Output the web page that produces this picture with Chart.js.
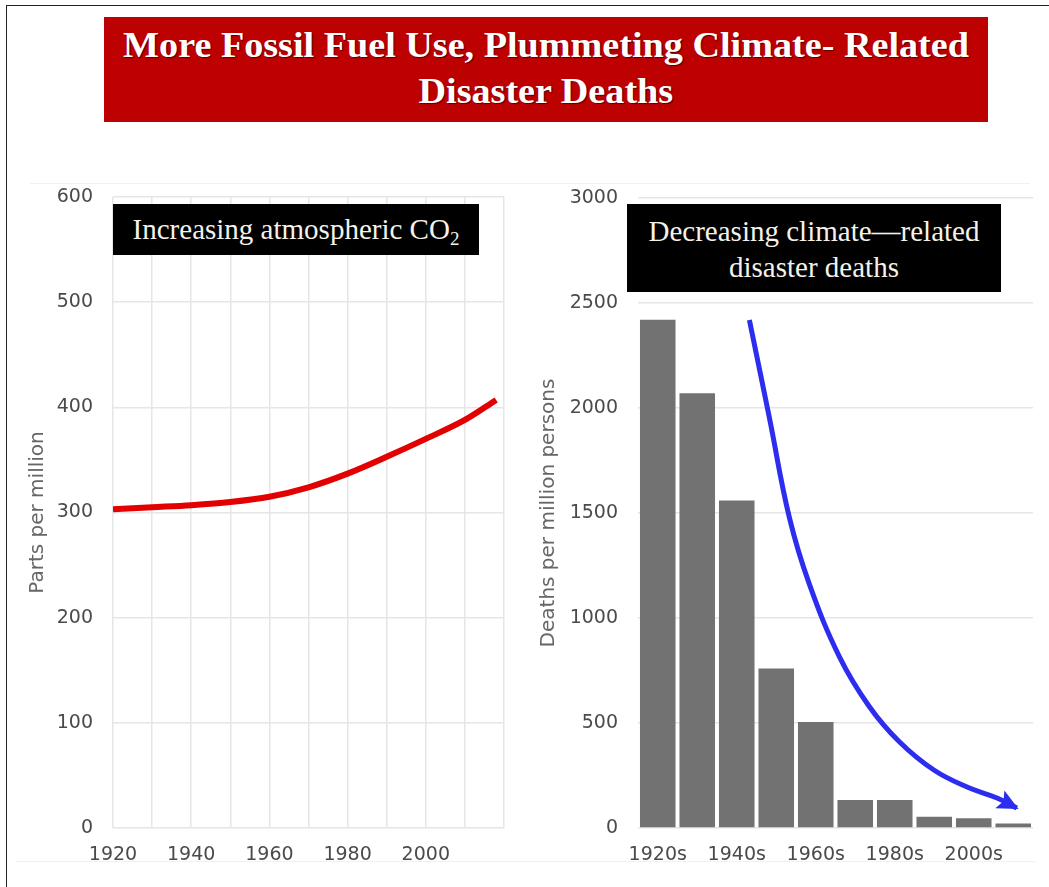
<!DOCTYPE html>
<html>
<head>
<meta charset="utf-8">
<script src="https://cdn.jsdelivr.net/npm/chart.js@4/dist/chart.umd.min.js"></script>
<style>
  html, body { margin: 0; padding: 0; background: #fff; }
  body { width: 1049px; height: 887px; position: relative; overflow: hidden; }
  #frame { position: absolute; left: 6px; top: 5px; width: 1043px; height: 882px;
           border-left: 1px solid #222; border-top: 1px solid #222; }
  #banner { position: absolute; left: 104px; top: 17px; width: 884px; height: 105px;
            background: #bd0000; color: #fff; text-align: center;
            font-family: "Liberation Serif", "Times New Roman", serif; font-weight: bold;
            font-size: 35px; line-height: 46px; padding-top: 6px; box-sizing: border-box;
            text-shadow: 1px 1px 1px #5a0000; }
  #banner span { display: inline-block; transform: scaleX(1.09); transform-origin: center; }
  .cv { position: absolute; top: 180px; }
  .lbl { position: absolute; background: #000; color: #f4f2ea; text-align: center;
         font-family: "Liberation Serif", "Times New Roman", serif; font-size: 29px; z-index: 5; }
  .faint { position: absolute; height: 1px; background: #eaf5f3; }
</style>
</head>
<body>
<div id="frame"></div>
<div id="banner"><span>More Fossil Fuel Use, Plummeting Climate- Related</span><br><span>Disaster Deaths</span></div>
<div class="faint" style="left:30px; top:183px; width:1000px;"></div>
<div class="faint" style="left:15px; top:861px; width:1020px;"></div>
<canvas id="c1" class="cv" width="530" height="700" style="left:0px"></canvas>
<canvas id="c2" class="cv" width="519" height="700" style="left:530px"></canvas>
<div class="lbl" style="left:113px; top:204px; width:366px; height:51px; line-height:51px;">Increasing atmospheric CO<sub style="font-size:19px; vertical-align:-6px; line-height:0;">2</sub></div>
<div class="lbl" style="left:627px; top:204px; width:374px; height:88px; line-height:36px; padding-top:9px; box-sizing:border-box;">Decreasing climate—related<br>disaster deaths</div>

<script>
// ---- Left chart: atmospheric CO2 (ppm) ----
const co2Years = [1920, 1930, 1940, 1950, 1960, 1970, 1980, 1990, 2000, 2010, 2018];
const co2Values = [303, 305, 307, 310, 315, 324, 337, 353, 370, 388, 407];
const co2YTicks = [0, 100, 200, 300, 400, 500, 600];
const co2XLabels = [1920, 1940, 1960, 1980, 2000];

// ---- Right chart: climate-related disaster deaths per million ----
const decades = ['1920s', '1930s', '1940s', '1950s', '1960s', '1970s', '1980s', '1990s', '2000s', '2010s'];
const deathsPerMillion = [2420, 2070, 1560, 760, 505, 133, 133, 54, 46, 22];
const decadeLabelsShown = ['1920s', '1940s', '1960s', '1980s', '2000s'];

// ---- Blue trend arrow (x in decade-index units, y in deaths per million) ----
const arrowX = [2.32, 2.83, 3.33, 3.84, 4.60, 5.35, 6.11, 6.99, 7.83, 8.59, 9.09];
const arrowY = [2419, 1950, 1480, 1160, 815, 580, 412, 276, 195, 143, 95];

const tickFont = { family: 'DejaVu Sans', size: 19 };
const titleFont = { family: 'DejaVu Sans', size: 20 };
const tickColor = '#4a4a4a';
const gridColor = '#e6e6e6';

function fixY(width) {
  return s => { s.width = width; s.paddingTop = 0; s.paddingBottom = 0; };
}

new Chart(document.getElementById('c1'), {
  type: 'line',
  data: {
    datasets: [{
      data: co2Years.map((y, i) => ({ x: y, y: co2Values[i] })),
      borderColor: '#e30000',
      borderWidth: 6,
      pointRadius: 0,
      cubicInterpolationMode: 'monotone',
      fill: false
    }]
  },
  options: {
    responsive: false,
    animation: false,
    layout: { padding: { top: 17, right: 26, left: 0, bottom: 0 } },
    plugins: { legend: { display: false }, tooltip: { enabled: false } },
    scales: {
      x: {
        type: 'linear', min: 1920, max: 2020,
        afterFit: s => { s.height = 52; },
        grid: { color: gridColor, lineWidth: 1.5, drawTicks: false },
        border: { display: false },
        ticks: {
          stepSize: 10, autoSkip: false, maxRotation: 0, padding: 16,
          color: tickColor, font: tickFont,
          callback: v => co2XLabels.includes(v) ? String(v) : ''
        }
      },
      y: {
        min: 0, max: 600,
        afterFit: fixY(113),
        afterBuildTicks: s => { s.ticks = co2YTicks.map(v => ({ value: v })); },
        grid: { color: gridColor, lineWidth: 1.5, drawTicks: false },
        border: { display: false },
        ticks: { padding: 20, color: tickColor, font: tickFont, callback: v => String(v) },
        title: { display: true, text: 'Parts per million', color: '#666', font: titleFont, padding: { top: 26, bottom: 0 } }
      }
    }
  }
});

const arrowHeadPlugin = {
  id: 'arrowHead',
  afterDatasetsDraw(chart) {
    const meta = chart.getDatasetMeta(1);
    const pts = meta.data;
    if (!pts || pts.length < 2) return;
    const tip = pts[pts.length - 1], prev = pts[pts.length - 2];
    const ang = Math.atan2(tip.y - prev.y, tip.x - prev.x);
    const ctx = chart.ctx;
    ctx.save();
    ctx.translate(tip.x, tip.y);
    ctx.rotate(ang);
    ctx.fillStyle = '#2d2df0';
    ctx.beginPath();
    ctx.moveTo(2, 0);
    ctx.lineTo(-19, -10);
    ctx.lineTo(-15, 0);
    ctx.lineTo(-19, 10);
    ctx.closePath();
    ctx.fill();
    ctx.restore();
  }
};

new Chart(document.getElementById('c2'), {
  type: 'bar',
  data: {
    labels: decades,
    datasets: [{
      type: 'bar',
      data: deathsPerMillion,
      backgroundColor: '#727272',
      barPercentage: 0.9,
      categoryPercentage: 1.0,
      grouped: false,
      order: 2
    }, {
      type: 'line',
      xAxisID: 'xa',
      data: arrowX.map((x, i) => ({ x: x, y: arrowY[i] })),
      borderColor: '#2d2df0',
      borderWidth: 5,
      pointRadius: 0,
      tension: 0.4,
      fill: false,
      order: 1
    }]
  },
  options: {
    responsive: false,
    animation: false,
    layout: { padding: { top: 18, right: 16, left: 0, bottom: 0 } },
    plugins: { legend: { display: false }, tooltip: { enabled: false } },
    scales: {
      x: {
        type: 'category', offset: true,
        afterFit: s => { s.height = 52; },
        grid: { display: false, drawTicks: false },
        border: { display: false },
        ticks: {
          autoSkip: false, maxRotation: 0, padding: 16, color: tickColor, font: tickFont,
          callback: function (v) { const l = this.getLabelForValue(v); return decadeLabelsShown.includes(l) ? l : ''; }
        }
      },
      xa: {
        type: 'linear', display: false, min: -0.5, max: 9.5, offset: false,
        grid: { offset: false }
      },
      y: {
        min: 0, max: 3000,
        afterFit: fixY(108),
        grid: { color: gridColor, lineWidth: 1.5, drawTicks: false },
        border: { display: false },
        ticks: { stepSize: 500, padding: 20, color: tickColor, font: tickFont, callback: v => String(v) },
        title: { display: true, text: 'Deaths per million persons', color: '#666', font: titleFont, padding: { top: 7, bottom: 0 } }
      }
    }
  },
  plugins: [arrowHeadPlugin]
});
</script>
</body>
</html>
